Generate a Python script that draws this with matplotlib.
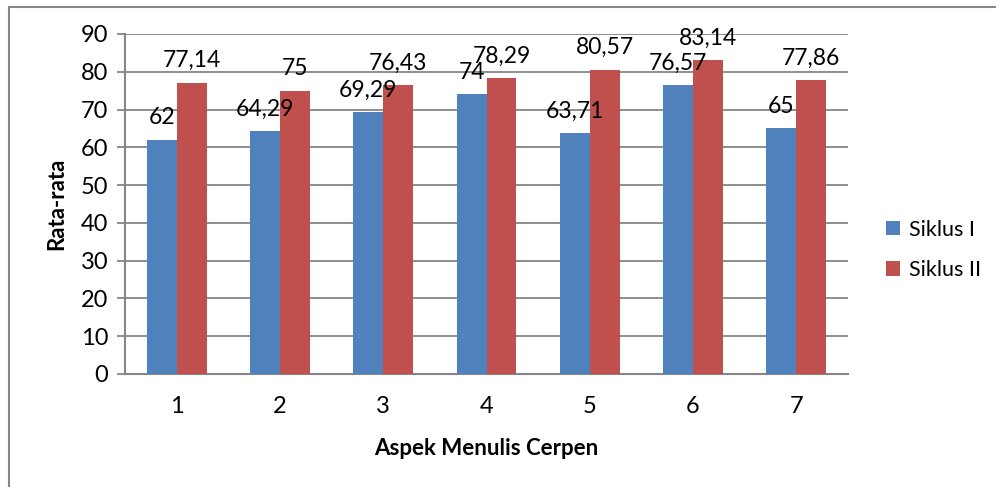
import numpy as np
import matplotlib.pyplot as plt
from matplotlib.patches import Rectangle

# Nilai rata-rata per aspek menulis cerpen
aspek = ['1', '2', '3', '4', '5', '6', '7']
siklus_1 = [62, 64.29, 69.29, 74, 63.71, 76.57, 65]
siklus_2 = [77.14, 75, 76.43, 78.29, 80.57, 83.14, 77.86]

biru = '#4f81bd'
merah = '#c0504d'
abu = '#868686'

plt.rcParams['font.family'] = ['Lato', 'DejaVu Sans']

fig = plt.figure(figsize=(9.96, 4.87), dpi=100)
ax = fig.add_axes([125 / 996, 1 - 374 / 487, (848 - 125) / 996, (374 - 34) / 487])

# bingkai grafik
fig.patches.append(Rectangle((9 / 996, -0.01), 1.2, 1 - 7 / 487 + 0.01, transform=fig.transFigure,
                             fill=False, edgecolor=abu, linewidth=1.5))

x = np.arange(len(aspek))
lebar = 0.29
b1 = ax.bar(x - lebar / 2, siklus_1, lebar, color=biru, label='Siklus I', zorder=3)
b2 = ax.bar(x + lebar / 2, siklus_2, lebar, color=merah, label='Siklus II', zorder=3)

def format_nilai(v):
    if float(v).is_integer():
        return str(int(v))
    return ('%.2f' % v).replace('.', ',')

for bars, vals in ((b1, siklus_1), (b2, siklus_2)):
    for b, v in zip(bars, vals):
        ax.text(b.get_x() + b.get_width() / 2, v + 3.0, format_nilai(v),
                ha='center', va='bottom', fontsize=16.5, zorder=4)

ax.set_xlim(-0.5, len(aspek) - 0.5)
ax.set_ylim(0, 90)
ax.set_yticks(range(0, 91, 10))
ax.set_xticks(x)
ax.set_xticklabels(aspek)
ax.yaxis.grid(True, color=abu, linewidth=1.3, zorder=0)
ax.set_axisbelow(True)

for s in ('top', 'right'):
    ax.spines[s].set_visible(False)
for s in ('left', 'bottom'):
    ax.spines[s].set_color(abu)
    ax.spines[s].set_linewidth(1.5)

ax.tick_params(axis='y', length=6, color=abu, width=1.3, labelsize=17, pad=6)
ax.tick_params(axis='x', length=0, labelsize=17, pad=16)

ax.set_ylabel('Rata-rata', fontsize=16, fontweight='bold', labelpad=10)
ax.set_xlabel('Aspek Menulis Cerpen', fontsize=16, fontweight='bold', labelpad=15)

fig.legend(handles=[b1, b2], loc='center left', bbox_to_anchor=(886 / 996, 1 - 250 / 487),
           frameon=False, fontsize=15.5, handlelength=0.65, handleheight=0.65,
           handletextpad=0.42, labelspacing=0.95, borderpad=0, borderaxespad=0)

fig.savefig('out.png', dpi=100)
